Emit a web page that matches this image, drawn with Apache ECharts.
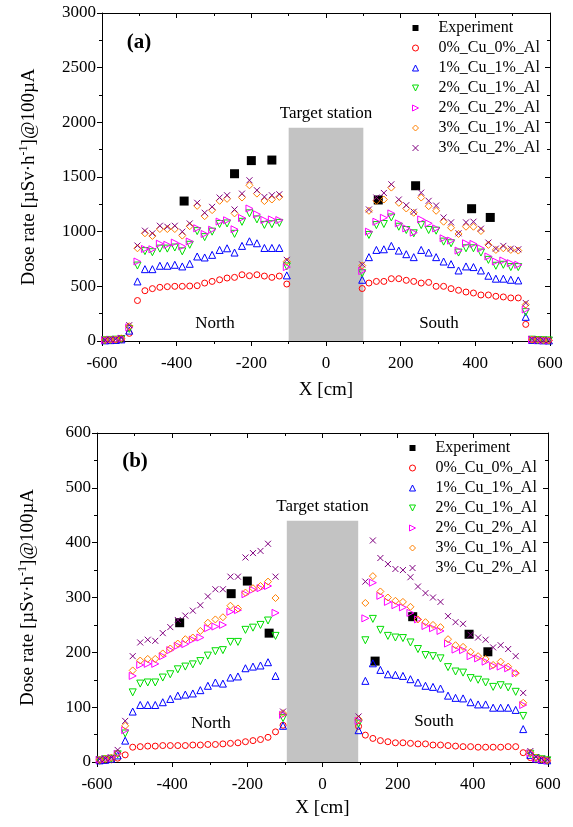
<!DOCTYPE html>
<html>
<head>
<meta charset="utf-8">
<script src="https://cdn.jsdelivr.net/npm/echarts@6/dist/echarts.min.js"></script>
<style>
  html, body { margin: 0; padding: 0; background: #fff; }
  #chart { width: 573px; height: 827px; }
</style>
</head>
<body>
<div id="chart"></div>
<script>
// ---------------- panel (a) data ----------------
const xA = [-592, -578, -563, -548, -527,
  -505, -485, -465, -445, -425, -405, -385, -365, -345, -325, -305, -285, -265, -245, -225, -205, -185, -165, -145, -125, -105,
  97,
  115, 135, 155, 175, 195, 215, 235, 255, 275, 295, 315, 335, 355, 375, 395, 415, 435, 455, 475, 495, 515,
  535,
  552, 567, 582, 597];

const a_cu0al0 = [4, 6, 8, 12, 70,
  370, 460, 479, 491, 497, 500, 500, 503, 506, 530, 545, 560, 576, 582, 606, 597, 606, 594, 582, 594, 521,
  480,
  530, 545, 545, 570, 570, 555, 545, 530, 536, 500, 500, 479, 464, 448, 439, 421, 421, 409, 403, 394, 394,
  152,
  8, 6, 5, 4];
const a_cu1al1 = [6, 8, 10, 15, 95,
  545, 657, 657, 688, 688, 697, 682, 706, 773, 764, 788, 833, 848, 809, 870, 912, 894, 851, 851, 851, 600,
  560,
  767, 833, 839, 870, 827, 794, 767, 833, 809, 767, 727, 703, 645, 682, 676, 645, 597, 570, 570, 560, 554,
  221,
  10, 8, 6, 5];
const a_cu2al1 = [7, 10, 12, 18, 110,
  690, 822, 812, 845, 845, 855, 820, 880, 1005, 950, 1000, 1070, 1075, 980, 1090, 1168, 1112, 1062, 1068, 1080, 682,
  620,
  970, 1060, 1070, 1130, 1045, 1015, 985, 1060, 1015, 1009, 909, 894, 809, 848, 848, 809, 742, 688, 697, 676, 676,
  264,
  12, 9, 7, 5];
const a_cu2al2 = [8, 11, 13, 22, 125,
  727, 842, 839, 890, 880, 900, 865, 910, 1031, 979, 1018, 1092, 1104, 1022, 1125, 1212, 1159, 1107, 1112, 1106, 676,
  640,
  1000, 1091, 1127, 1167, 1076, 1030, 991, 1112, 1076, 1030, 939, 918, 827, 894, 888, 848, 773, 727, 736, 712, 697,
  288,
  13, 10, 7, 5];
const a_cu3al1 = [9, 12, 14, 25, 135,
  848, 985, 961, 1024, 1024, 1024, 964, 1050, 1236, 1142, 1197, 1282, 1300, 1167, 1312, 1424, 1348, 1280, 1294, 1318, 727,
  690,
  1191, 1282, 1294, 1403, 1264, 1212, 1173, 1312, 1233, 1191, 1091, 1036, 979, 1045, 1045, 1006, 879, 833, 848, 833, 827,
  333,
  14, 10, 8, 6];
const a_cu3al2 = [10, 13, 16, 28, 145,
  873, 1009, 985, 1054, 1045, 1054, 1000, 1075, 1264, 1173, 1227, 1312, 1333, 1203, 1348, 1470, 1379, 1318, 1333, 1342, 742,
  700,
  1203, 1312, 1354, 1433, 1294, 1242, 1182, 1357, 1282, 1239, 1130, 1085, 985, 1085, 1091, 1027, 900, 845, 870, 845, 839,
  348,
  15, 11, 8, 6];
const expXA = [-380, -245, -200, -145, 140, 240, 390, 440];
const expYA = [1280, 1530, 1650, 1655, 1290, 1420, 1210, 1130];

// ---------------- panel (b) data ----------------
const xB = [-593, -578, -562, -545, -525,
  -505, -485, -465, -445, -425, -405, -385, -365, -345, -325, -305, -285, -265, -245, -225, -205, -185, -165, -145, -125, -105,
  96,
  114, 134, 154, 174, 194, 214, 234, 254, 274, 294, 314, 334, 354, 374, 394, 414, 434, 454, 474, 494, 514,
  534,
  553, 568, 583, 598];

const b_cu0al0 = [2, 3, 4, 7, 13,
  27, 28, 29, 29, 30, 30, 30, 30, 31, 31, 32, 32, 33, 34, 35, 37, 39, 41, 45, 55, 67,
  65,
  49, 43, 39, 37, 35, 35, 34, 33, 33, 31, 31, 30, 29, 28, 28, 27, 27, 27, 27, 28, 28,
  17,
  8, 4, 3, 2];
const b_cu1al1 = [3, 4, 6, 12, 39,
  92, 104, 104, 104, 109, 115, 121, 123, 125, 131, 139, 145, 143, 154, 156, 171, 174, 176, 182, 157, 66,
  58,
  148, 180, 168, 160, 159, 157, 151, 145, 139, 137, 134, 121, 117, 116, 109, 105, 105, 99, 99, 99, 95,
  60,
  13, 6, 4, 3];
const b_cu2al1 = [3, 5, 6, 14, 52,
  127, 143, 145, 145, 154, 160, 169, 174, 178, 184, 194, 202, 204, 219, 219, 241, 245, 250, 258, 230, 80,
  70,
  222, 261, 241, 230, 227, 226, 218, 206, 195, 193, 189, 173, 165, 163, 153, 150, 145, 137, 140, 136, 128,
  84,
  15, 7, 5, 3];
const b_cu2al2 = [4, 5, 7, 15, 58,
  157, 177, 179, 179, 193, 204, 212, 215, 223, 227, 244, 247, 250, 274, 277, 306, 314, 317, 321, 272, 86,
  75,
  262, 327, 303, 292, 286, 282, 272, 260, 248, 244, 239, 216, 205, 204, 193, 189, 183, 175, 174, 171, 162,
  104,
  16, 7, 5, 3];
const b_cu3al1 = [4, 6, 8, 16, 66,
  167, 185, 188, 188, 198, 207, 216, 224, 227, 239, 254, 260, 264, 285, 280, 309, 317, 321, 329, 299, 89,
  78,
  290, 339, 311, 300, 294, 292, 283, 260, 255, 250, 246, 224, 213, 210, 201, 193, 188, 177, 183, 174, 162,
  108,
  17, 8, 5, 3];
const b_cu3al2 = [5, 6, 8, 22, 75,
  193, 218, 223, 221, 235, 246, 259, 267, 276, 286, 302, 315, 315, 338, 338, 373, 381, 385, 398, 338, 92,
  83,
  329, 404, 372, 361, 352, 350, 337, 320, 308, 300, 292, 266, 255, 252, 232, 227, 223, 209, 213, 206, 193,
  126,
  20, 9, 6, 4];
const expXB = [-380, -243, -200, -142, 140, 240, 390, 440];
const expYB = [254, 307, 330, 235, 184, 265, 233, 201];

// legend names
const names = ['Experiment', '0%_Cu_0%_Al', '1%_Cu_1%_Al', '2%_Cu_1%_Al', '2%_Cu_2%_Al', '3%_Cu_1%_Al', '3%_Cu_2%_Al'];

// target station block [x from, x to, height]
const boxA = [-100, 100, 1950];
const boxB = [-95, 95, 440];

// ---------------- styles ----------------
const FONT = '"Liberation Serif", "Times New Roman", serif';
// open markers: circle, up / down / right triangle, diamond, cross
const markers = [
  { symbol: 'circle', size: 6, color: '#ff0000' },
  { symbol: 'path://M5,0L10,10L0,10Z', size: 7, color: '#0000ff' },
  { symbol: 'path://M0,0L10,0L5,10Z', size: 7, color: '#00dd00' },
  { symbol: 'path://M0,0L10,5L0,10Z', size: 7, color: '#ff00ff' },
  { symbol: 'diamond', size: 7, color: '#ff8000' },
  { symbol: 'path://M0,0L10,10M0,10L10,0', size: 6, color: '#800080' }
];

function pts(xs, ys) {
  return xs.map((x, i) => [x, ys[i]]);
}

function openStyle(c) {
  return { color: 'rgba(0,0,0,0)', borderColor: c, borderWidth: 1, opacity: 1 };
}

function panelSeries(axisIdx, xs, sims, expX, expY, box) {
  const list = [{
    name: names[0],
    type: 'scatter',
    xAxisIndex: axisIdx,
    yAxisIndex: axisIdx,
    symbol: 'rect',
    symbolSize: 9,
    itemStyle: { color: '#000', opacity: 1 },
    data: pts(expX, expY)
  }];
  sims.forEach((ys, i) => {
    const m = markers[i];
    list.push({
      name: names[i + 1],
      type: 'scatter',
      xAxisIndex: axisIdx,
      yAxisIndex: axisIdx,
      symbol: m.symbol,
      symbolSize: m.size,
      itemStyle: openStyle(m.color),
      data: pts(xs, ys)
    });
  });
  // gray target station block, on its own layer above the points
  list.push({
    type: 'scatter',
    xAxisIndex: axisIdx,
    yAxisIndex: axisIdx,
    data: [],
    zlevel: 1,
    silent: true,
    markArea: {
      silent: true,
      itemStyle: { color: '#c3c3c3', opacity: 1 },
      label: {
        show: true, position: 'top', distance: 6,
        formatter: 'Target station',
        fontFamily: FONT, fontSize: 17, color: '#000'
      },
      data: [[{ xAxis: box[0], yAxis: 0 }, { xAxis: box[1], yAxis: box[2] }]]
    }
  });
  return list;
}

function xAxes(gridIdx, nameGap) {
  const common = {
    gridIndex: gridIdx, type: 'value', min: -600, max: 600, interval: 200,
    axisLine: { onZero: false, lineStyle: { color: '#000', width: 1 } },
    splitLine: { show: false },
    minorTick: { show: true, splitNumber: 2, length: 3, lineStyle: { color: '#000' } }
  };
  return [
    Object.assign({}, common, {
      position: 'bottom',
      axisTick: { inside: false, length: 5, lineStyle: { color: '#000' } },
      axisLabel: { fontFamily: FONT, fontSize: 17, color: '#000', margin: 14 },
      name: 'X [cm]', nameLocation: 'middle', nameGap: nameGap,
      nameTextStyle: { fontFamily: FONT, fontSize: 19, color: '#000' }
    }),
    Object.assign({}, common, {
      position: 'top',
      axisTick: { inside: true, length: 5, lineStyle: { color: '#000' } },
      axisLabel: { show: false }
    })
  ];
}

function yAxes(gridIdx, max, step, nameGap) {
  const common = {
    gridIndex: gridIdx, type: 'value', min: 0, max: max, interval: step,
    axisLine: { show: true, onZero: false, lineStyle: { color: '#000', width: 1 } },
    splitLine: { show: false },
    minorTick: { show: true, splitNumber: 2, length: 3, lineStyle: { color: '#000' } }
  };
  return [
    Object.assign({}, common, {
      position: 'left',
      axisTick: { inside: false, length: 5, lineStyle: { color: '#000' } },
      axisLabel: { fontFamily: FONT, fontSize: 17, color: '#000', margin: 6, formatter: v => String(v) },
      name: '{t|Dose rate [µSv·h}{s|-1}{t|]@100µA}',
      nameLocation: 'middle', nameGap: nameGap,
      nameTextStyle: {
        fontFamily: FONT, fontSize: 19, color: '#000',
        rich: {
          t: { fontFamily: FONT, fontSize: 19, color: '#000', lineHeight: 22 },
          s: { fontFamily: FONT, fontSize: 12, color: '#000', lineHeight: 22, verticalAlign: 'top' }
        }
      }
    }),
    Object.assign({}, common, {
      position: 'right',
      axisTick: { inside: true, length: 5, lineStyle: { color: '#000' } },
      axisLabel: { show: false }
    })
  ];
}

// legend entries: keep the open markers hollow there too
const legendData = names.map((n, i) => i === 0
  ? { name: n, itemStyle: { color: '#000', borderWidth: 0 } }
  : { name: n, itemStyle: openStyle(markers[i - 1].color) });

function legendAt(left, top) {
  return {
    orient: 'vertical', left: left, top: top, padding: 0,
    itemWidth: 6, itemHeight: 6, itemGap: 4,
    selectedMode: false,
    data: legendData,
    textStyle: { fontFamily: FONT, fontSize: 16, color: '#000', lineHeight: 16, padding: [0, 0, 0, 15] }
  };
}

function label(txt, x, y, size, weight) {
  return {
    type: 'text', x: x, y: y, silent: true,
    style: {
      text: txt, fill: '#000',
      font: (weight || 'normal') + ' ' + size + 'px ' + FONT,
      align: 'center', verticalAlign: 'middle',
      textAlign: 'center', textVerticalAlign: 'middle'
    }
  };
}

const chart = echarts.init(document.getElementById('chart'));
chart.setOption({
  animation: false,
  backgroundColor: '#fff',
  grid: [
    { left: 102, top: 13, width: 448, height: 328 },
    { left: 97, top: 433, width: 451, height: 329 }
  ],
  xAxis: xAxes(0, 40).concat(xAxes(1, 37)),
  yAxis: yAxes(0, 3000, 500, 62).concat(yAxes(1, 600, 100, 58)),
  legend: [legendAt(412, 20), legendAt(409, 440)],
  series: panelSeries(0, xA, [a_cu0al0, a_cu1al1, a_cu2al1, a_cu2al2, a_cu3al1, a_cu3al2], expXA, expYA, boxA)
    .concat(panelSeries(2, xB, [b_cu0al0, b_cu1al1, b_cu2al1, b_cu2al2, b_cu3al1, b_cu3al2], expXB, expYB, boxB)),
  graphic: [
    label('(a)', 139, 43, 21, 'bold'),
    label('(b)', 135, 462, 21, 'bold'),
    label('North', 215, 324, 17),
    label('South', 439, 324, 17),
    label('North', 211, 724, 17),
    label('South', 434, 722, 17)
  ]
});
</script>
</body>
</html>
